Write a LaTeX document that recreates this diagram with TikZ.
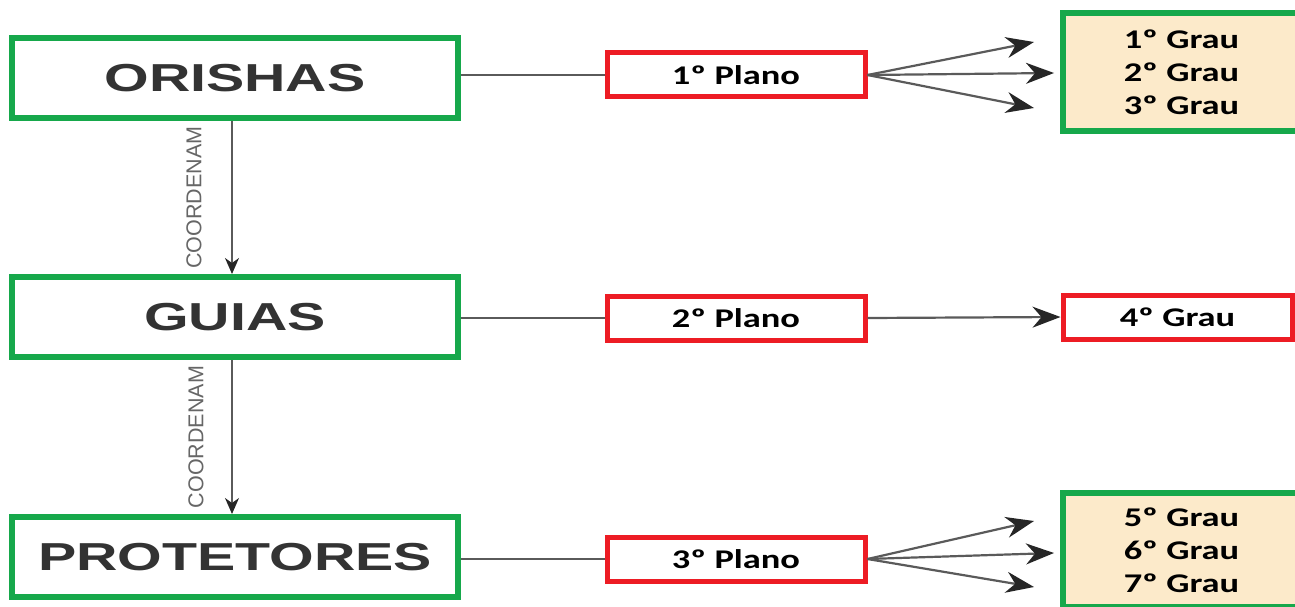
\documentclass[tikz,border=0pt]{standalone}
\usepackage{fontspec}
\setmainfont{Liberation Sans}
\newfontfamily\headfont[FakeStretch=1.47]{Liberation Sans}
\newfontfamily\planfont[FakeStretch=1.35]{Carlito}
\usetikzlibrary{positioning,calc,arrows.meta}
\definecolor{boxgreen}{RGB}{22,168,75}
\definecolor{boxred}{RGB}{237,28,36}
\definecolor{graufill}{RGB}{252,234,202}
\definecolor{linegray}{RGB}{90,90,90}

\begin{document}
\begin{tikzpicture}[x=1pt, y=-1pt,
				level/.style={rectangle, draw=boxgreen, line width=6pt, fill=white, minimum width=446pt, minimum height=80pt, inner sep=0pt, text=black!80, font=\headfont\bfseries\fontsize{39}{40}\selectfont},
				plano/.style={rectangle, draw=boxred, line width=5pt, fill=white, minimum width=258pt, minimum height=44pt, inner sep=0pt, font=\planfont\bfseries\fontsize{27}{33}\selectfont},
				grau/.style={plano, draw=boxgreen, line width=6pt, fill=graufill, minimum width=237pt, align=center},
				verb/.style={rotate=90, inner sep=0pt, text=black!60, font=\fontsize{21.5}{22}\selectfont},
				link/.style={draw=linegray, line width=2.2pt}
			]
			\useasboundingbox (0,0) rectangle (1295,607);
			\clip (0,0) rectangle (1295,607);
			\node[level] (orishas) at (235,78) {ORISHAS};
			\node[level] (guias) at (235,317) {GUIAS};
			\node[level] (protetores) at (235,557) {PROTETORES};
			\node[plano] (planoone) at (736,75) {1º Plano};
			\node[plano] (planotwo) at (736,318) {2º Plano};
			\node[plano] (planothree) at (736,559) {3º Plano};
			\node[grau, minimum height=118pt] (grautop) at (1181.5,72) {1º Grau\\2º Grau\\3º Grau};
			\node[plano, minimum width=229pt] (graumiddle) at (1177.5,317) {4º Grau};
			\node[grau, minimum height=114pt] (graubottom) at (1181.5,550) {5º Grau\\6º Grau\\7º Grau};
			\coordinate (fanonetop) at (1034,42);
			\coordinate (fanonemid) at (1054,73);
			\coordinate (fanonebot) at (1034,108);
			\coordinate (fanthreetop) at (1034,521);
			\coordinate (fanthreemid) at (1054,553);
			\coordinate (fanthreebot) at (1034,587);
			\node[verb] (coordone) at ($(orishas.south)!0.5!(guias.north)+(-41,0)$) {COORDENAM};
			\node[verb] (coordtwo) at ($(guias.south)!0.5!(protetores.north)+(-39,0)$) {COORDENAM};
			\begin{scope}[link]
			\draw (orishas.east |- planoone.west) -- (planoone.west);
			\draw (guias.east |- planotwo.west) -- (planotwo.west);
			\draw (protetores.east |- planothree.west) -- (planothree.west);
			\end{scope}
			\begin{scope}[link, -{Stealth[length=28pt, width=21pt, inset=9pt, color=black!85]}]
			\draw (planoone.east) -- (fanonetop);
			\draw (planoone.east) -- (fanonemid);
			\draw (planoone.east) -- (fanonebot);
			\draw (planotwo.east) -- (graumiddle.west);
			\draw (planothree.east) -- (fanthreetop);
			\draw (planothree.east) -- (fanthreemid);
			\draw (planothree.east) -- (fanthreebot);
			\end{scope}
			\begin{scope}[draw=linegray, line width=1.5pt, -{Stealth[length=16pt, width=14pt, inset=5pt, color=black!85]}]
			\draw ([xshift=-3pt]orishas.south) -- ([xshift=-3pt]guias.north);
			\draw ([xshift=-3pt]guias.south) -- ([xshift=-3pt]protetores.north);
			\end{scope}
			\end{tikzpicture}
\end{document}
